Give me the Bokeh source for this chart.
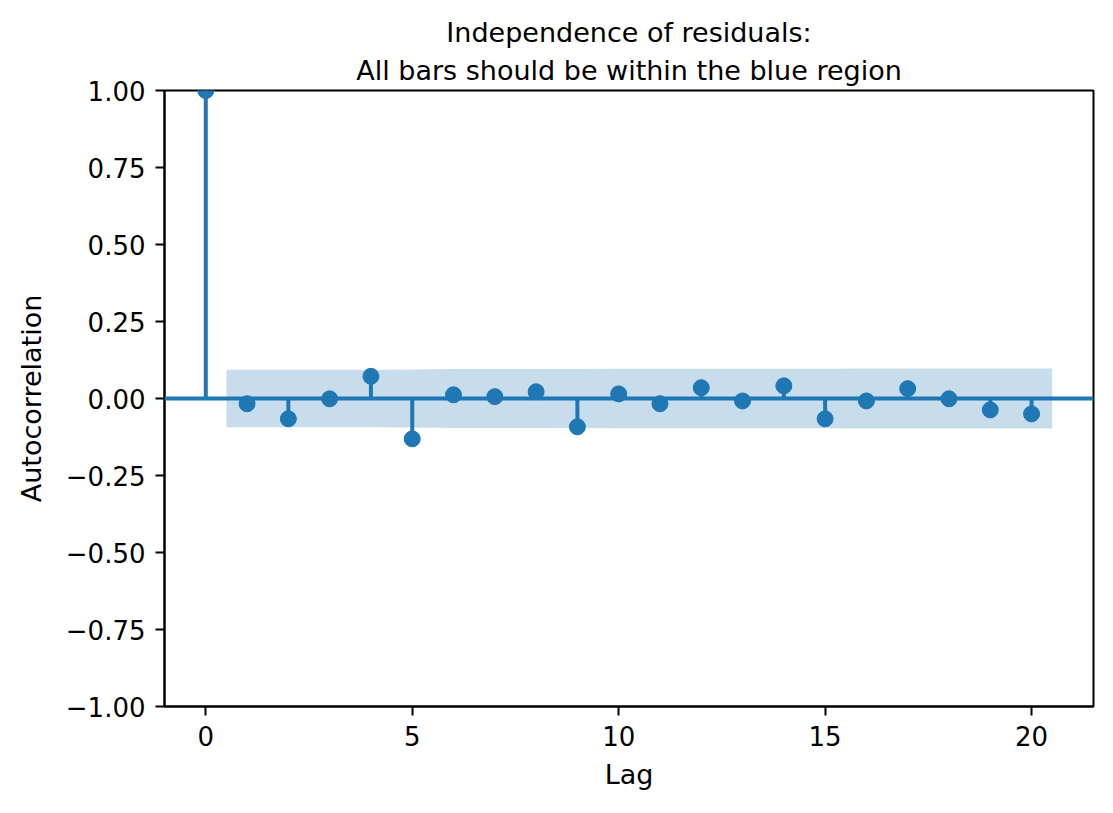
from bokeh.plotting import figure
from bokeh.models import Range1d, FixedTicker, CustomJSTickFormatter, Span, Title, ColumnDataSource
from bokeh.embed import file_html
from bokeh.resources import INLINE

# Residual autocorrelation by lag
lags = list(range(21))
acf = [1.0, -0.017, -0.066, -0.001, 0.072, -0.131, 0.012, 0.006, 0.022, -0.092,
       0.015, -0.017, 0.035, -0.008, 0.041, -0.066, -0.008, 0.032, -0.001, -0.037, -0.050]

# 95% confidence half-widths for lags 1..20
conf_half = [0.093, 0.093, 0.0934, 0.0934, 0.0939, 0.0955, 0.0956, 0.0956, 0.0956, 0.0963,
             0.0964, 0.0964, 0.0965, 0.0966, 0.0967, 0.0971, 0.0971, 0.0972, 0.0972, 0.0973]

x_ticks = [0, 5, 10, 15, 20]
y_ticks = [-1.0, -0.75, -0.5, -0.25, 0.0, 0.25, 0.5, 0.75, 1.0]

title_lines = ["Independence of residuals:", "All bars should be within the blue region"]

C0 = "#1f77b4"
FONT = "DejaVu Sans"

p = figure(frame_width=929, frame_height=616,
           x_range=Range1d(-1, 21.5), y_range=Range1d(-1, 1),
           output_backend="svg", toolbar_location=None, title=None,
           min_border_left=164, min_border_right=20,
           min_border_top=90, min_border_bottom=107,
           background_fill_color="white", border_fill_color="white")

p.xgrid.visible = False
p.ygrid.visible = False
p.outline_line_color = "black"
p.outline_line_width = 2
p.outline_line_alpha = 1

# stems, zero line and markers
p.segment(x0=lags, y0=[0] * len(lags), x1=lags, y1=acf, line_color=C0, line_width=4)
p.add_layout(Span(location=0, dimension="width", line_color=C0, line_width=4))
p.scatter(x=lags, y=acf, size=16, fill_color=C0, line_color=C0)

# confidence band, first and last edges stretched half a lag
band_x = list(lags[1:])
band_x[0] -= 0.5
band_x[-1] += 0.5
band = ColumnDataSource(dict(x=band_x, lo=[-h for h in conf_half], hi=conf_half))
p.varea(x="x", y1="lo", y2="hi", source=band, fill_color=C0, fill_alpha=0.25)

for ax in (p.xaxis[0], p.yaxis[0]):
    ax.axis_line_width = 2
    ax.major_tick_line_width = 2
    ax.major_tick_out = 9
    ax.major_tick_in = 0
    ax.minor_tick_line_color = None
    ax.major_label_text_font = FONT
    ax.major_label_text_font_size = "26px"
    ax.major_label_text_color = "black"
    ax.axis_label_text_font = FONT
    ax.axis_label_text_font_size = "27px"
    ax.axis_label_text_font_style = "normal"
    ax.axis_label_text_color = "black"
    ax.major_label_standoff = 10

p.xaxis.ticker = FixedTicker(ticks=x_ticks)
p.yaxis.ticker = FixedTicker(ticks=y_ticks)
p.yaxis.formatter = CustomJSTickFormatter(
    code="return (tick < 0 ? '\u2212' : '') + Math.abs(tick).toFixed(2);")
p.xaxis.axis_label = "Lag"
p.yaxis.axis_label = "Autocorrelation"
p.xaxis.axis_label_standoff = 10
p.yaxis.axis_label_standoff = 16

# two-line title, nearest line added first
for line, gap in zip(reversed(title_lines), (10, 0)):
    p.add_layout(Title(text=line, align="center", text_font=FONT,
                       text_font_size="27px", text_font_style="normal",
                       text_color="black", standoff=gap), "above")

open("out.html", "w").write(file_html(p, INLINE))
